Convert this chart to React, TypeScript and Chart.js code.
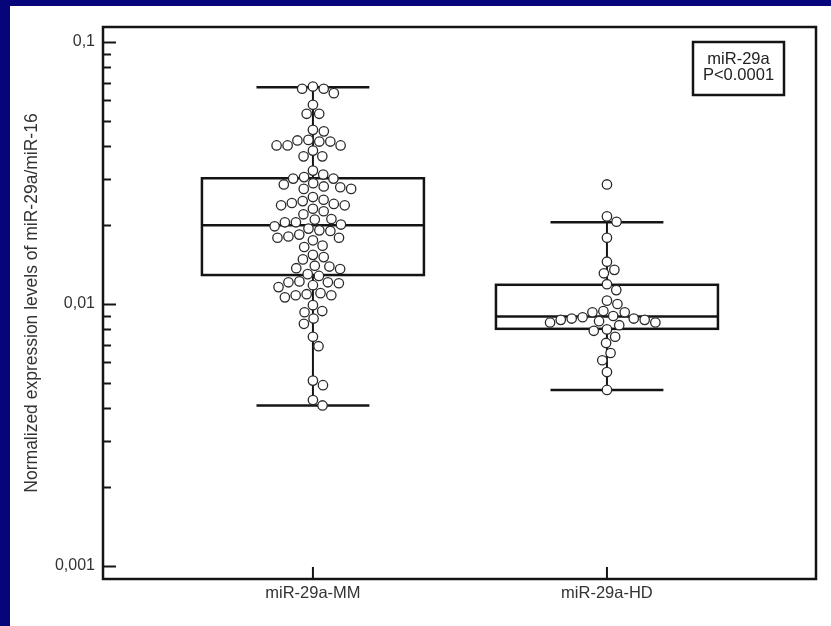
import React, { useEffect, useRef } from "react";
import { Chart, registerables } from "chart.js";

Chart.register(...registerables);

// ---------- data ----------
const categories = ["miR-29a-MM", "miR-29a-HD"];

const mmValues = [
  0.0676, 0.0663, 0.0663, 0.0638, 0.0576, 0.0532, 0.0532, 0.0462, 0.0456, 0.0423,
  0.0421, 0.0417, 0.0417, 0.0403, 0.0403, 0.0403, 0.0385, 0.0366, 0.0366,
  0.0323, 0.0301, 0.0301, 0.0305, 0.0312, 0.0275, 0.0275, 0.0279, 0.0281, 0.0286,
  0.0289, 0.0256, 0.0238, 0.0238, 0.0241, 0.0243, 0.0247, 0.0250, 0.0220, 0.0226,
  0.0231, 0.0205, 0.0205, 0.0210, 0.0211, 0.0201, 0.0190, 0.0191, 0.0194, 0.0198,
  0.0175, 0.0179, 0.0179, 0.0181, 0.0184, 0.0165, 0.0167,
  0.0148, 0.0151, 0.0154, 0.0136, 0.0137, 0.0139, 0.0140, 0.0128, 0.0130, 0.0116,
  0.0118, 0.0121, 0.0120, 0.0122, 0.0121, 0.0106, 0.0108, 0.0108, 0.0109, 0.0110,
  0.0099, 0.0094, 0.0093, 0.0088, 0.0084, 0.0075, 0.0069, 0.0051, 0.0049, 0.0043,
  0.0041,
];

const hdValues = [
  0.0286, 0.0216, 0.0206, 0.0179, 0.0145, 0.0135, 0.0131, 0.0119, 0.0113, 0.0103,
  0.0100, 0.0094, 0.0093, 0.0093, 0.0090, 0.0089, 0.0088, 0.0088, 0.0087, 0.0087,
  0.0086, 0.0085, 0.0085, 0.0083, 0.0080, 0.0079, 0.0075, 0.0071, 0.0065, 0.0061,
  0.0055, 0.0047,
];

// box statistics per category (MM, HD)
const whiskerLow = [0.0041, 0.0047];
const quartile1 = [0.0129, 0.00804];
const medians = [0.0200, 0.00896];
const quartile3 = [0.0302, 0.01184];
const whiskerHigh = [0.0672, 0.0205];

// y axis
const yMin = 0.000892;
const yMax = 0.1141;
const majorTickValues = [0.001, 0.01, 0.1];
const majorTickLabels = ["0,001", "0,01", "0,1"];
const minorMultipliers = [2, 3, 4, 5, 6, 7, 8, 9];
const yAxisTitle = "Normalized expression levels of miR-29a/miR-16";
const annotationLines = ["miR-29a", "P<0.0001"];

// ---------- styles ----------
const FONT = "'Liberation Sans', Arial, Helvetica, sans-serif";
const INK = "#141414";
const TEXT = "#333333";
const BOX_HALF = 0.3775; // in x units
const CAP_HALF = 0.192;
const SWARM_SPACING = 11;

function allYTicks(): number[] {
  const out: number[] = [];
  for (let k = 0; k < majorTickValues.length; k++) {
    out.push(majorTickValues[k]);
    if (k < majorTickValues.length - 1) {
      for (const m of minorMultipliers) out.push(+(majorTickValues[k] * m).toPrecision(6));
    }
  }
  return out;
}

function beeswarm(ys: number[], d: number): number[] {
  const idx = ys.map((_, i) => i).sort((a, b) => ys[a] - ys[b]);
  const xs = new Array(ys.length).fill(0);
  const placed: number[] = [];
  for (const i of idx) {
    const y = ys[i];
    const near = placed.filter((j) => Math.abs(ys[j] - y) < d);
    const cands = [0];
    for (const j of near) {
      const dy = ys[j] - y;
      const dx = Math.sqrt(d * d - dy * dy);
      cands.push(xs[j] + dx + 0.01, xs[j] - dx - 0.01);
    }
    cands.sort((a, b) => Math.abs(a) - Math.abs(b));
    let chosen = 0;
    for (const c of cands) {
      if (near.every((j) => (xs[j] - c) ** 2 + (ys[j] - y) ** 2 >= d * d - 0.05)) {
        chosen = c;
        break;
      }
    }
    xs[i] = chosen;
    placed.push(i);
  }
  return xs;
}

const line = (ctx: CanvasRenderingContext2D, x1: number, y1: number, x2: number, y2: number) => {
  ctx.beginPath();
  ctx.moveTo(x1, y1);
  ctx.lineTo(x2, y2);
  ctx.stroke();
};

const boxPlugin = {
  id: "boxPlugin",
  beforeDatasetsDraw(chart: any) {
    const { ctx, chartArea, scales } = chart;
    const x = scales.x;
    const y = scales.y;
    ctx.save();
    ctx.strokeStyle = INK;
    ctx.lineCap = "butt";
    // frame
    ctx.lineWidth = 2.5;
    ctx.strokeRect(chartArea.left, chartArea.top, chartArea.right - chartArea.left, chartArea.bottom - chartArea.top);
    // inward y ticks
    const yt = allYTicks();
    for (const v of yt) {
      const py = Math.round(y.getPixelForValue(v)) + 0.5;
      const major = majorTickValues.some((m) => Math.abs(m - v) / m < 1e-6);
      ctx.lineWidth = 2;
      line(ctx, chartArea.left, py, chartArea.left + (major ? 13 : 8), py);
    }
    // x ticks
    categories.forEach((_, i) => {
      const px = x.getPixelForValue(i + 1);
      ctx.lineWidth = 2;
      line(ctx, px, chartArea.bottom, px, chartArea.bottom - 12);
    });
    // boxes
    categories.forEach((_, i) => {
      const cx = x.getPixelForValue(i + 1);
      const bw = x.getPixelForValue(i + 1 + BOX_HALF) - cx;
      const cw = x.getPixelForValue(i + 1 + CAP_HALF) - cx;
      const yq1 = y.getPixelForValue(quartile1[i]);
      const yq3 = y.getPixelForValue(quartile3[i]);
      const ymed = y.getPixelForValue(medians[i]);
      const ylo = y.getPixelForValue(whiskerLow[i]);
      const yhi = y.getPixelForValue(whiskerHigh[i]);
      ctx.lineWidth = 2;
      line(ctx, cx, yq3, cx, yhi);
      line(ctx, cx, yq1, cx, ylo);
      ctx.lineWidth = 2.5;
      line(ctx, cx - cw, yhi, cx + cw, yhi);
      line(ctx, cx - cw, ylo, cx + cw, ylo);
      ctx.strokeRect(cx - bw, yq3, 2 * bw, yq1 - yq3);
      line(ctx, cx - bw, ymed, cx + bw, ymed);
    });
    ctx.restore();
  },
  afterDraw(chart: any) {
    const { ctx, chartArea } = chart;
    ctx.save();
    const w = 91;
    const h = 53;
    const bx = chartArea.right - 32 - w;
    const by = chartArea.top + 15;
    ctx.strokeStyle = INK;
    ctx.lineWidth = 2.5;
    ctx.strokeRect(bx, by, w, h);
    ctx.fillStyle = "#222";
    ctx.font = `16.5px ${FONT}`;
    ctx.textAlign = "center";
    ctx.textBaseline = "middle";
    annotationLines.forEach((t, k) => {
      ctx.fillText(t, bx + w / 2, by + 17 + k * 16.5);
    });
    ctx.restore();
  },
};

export default function App() {
  const ref = useRef<HTMLCanvasElement | null>(null);

  useEffect(() => {
    if (!ref.current) return;
    const yTicks = allYTicks();
    const chart = new Chart(ref.current, {
      type: "scatter",
      data: {
        datasets: [
          { label: categories[0], data: mmValues.map((v) => ({ x: 1, y: v })) },
          { label: categories[1], data: hdValues.map((v) => ({ x: 2, y: v })) },
        ],
      },
      options: {
        responsive: false,
        animation: false,
        devicePixelRatio: 1,
        layout: { padding: { top: 21, right: 15, left: 0, bottom: 0 } },
        elements: {
          point: {
            radius: 4.7,
            hoverRadius: 4.7,
            borderWidth: 1.3,
            borderColor: "#2a2a2a",
            backgroundColor: "#ffffff",
          },
        },
        plugins: {
          legend: { display: false },
          tooltip: { enabled: false },
        },
        scales: {
          x: {
            type: "linear",
            min: 0.286,
            max: 2.711,
            grid: { display: false, drawTicks: false },
            border: { display: false },
            afterBuildTicks: (scale: any) => {
              scale.ticks = categories.map((_, i) => ({ value: i + 1 }));
            },
            afterFit: (scale: any) => {
              scale.height = 47;
            },
            ticks: {
              autoSkip: false,
              maxRotation: 0,
              padding: 5,
              color: TEXT,
              font: { family: FONT, size: 16.5 },
              callback: (v: any) => categories[Math.round(Number(v)) - 1] ?? "",
            },
          },
          y: {
            type: "logarithmic",
            min: yMin,
            max: yMax,
            grid: { display: false, drawTicks: false },
            border: { display: false },
            afterBuildTicks: (scale: any) => {
              scale.ticks = yTicks.map((v) => ({ value: v }));
            },
            afterFit: (scale: any) => {
              scale.width = 93;
            },
            title: {
              display: true,
              text: yAxisTitle,
              color: TEXT,
              font: { family: FONT, size: 17.5, weight: "normal" },
              padding: { top: 12, bottom: 0 },
            },
            ticks: {
              autoSkip: false,
              padding: 8,
              color: TEXT,
              font: { family: FONT, size: 16 },
              callback: (v: any) => {
                const n = Number(v);
                const k = majorTickValues.findIndex((m) => Math.abs(m - n) / m < 1e-6);
                return k >= 0 ? majorTickLabels[k] : "";
              },
            },
          },
        },
      },
      plugins: [boxPlugin],
    } as any);

    // swarm layout computed through the library's scales
    const xs = chart.scales.x;
    const ys = chart.scales.y;
    const pxPerUnit = xs.getPixelForValue(1) - xs.getPixelForValue(0);
    [mmValues, hdValues].forEach((vals, k) => {
      const py = vals.map((v) => ys.getPixelForValue(v));
      const offs = beeswarm(py, SWARM_SPACING);
      chart.data.datasets[k].data = vals.map((v, i) => ({ x: k + 1 + offs[i] / pxPerUnit, y: v }));
    });
    chart.update();

    return () => chart.destroy();
  }, []);

  return (
    <div style={{ position: "fixed", left: 0, top: 0, width: 831, height: 626, background: "#06067a", overflow: "hidden" }}>
      <div style={{ position: "absolute", left: 10, top: 6, width: 821, height: 620, background: "#ffffff" }}>
        <canvas ref={ref} width={821} height={620} style={{ display: "block", width: 821, height: 620 }} />
      </div>
    </div>
  );
}
